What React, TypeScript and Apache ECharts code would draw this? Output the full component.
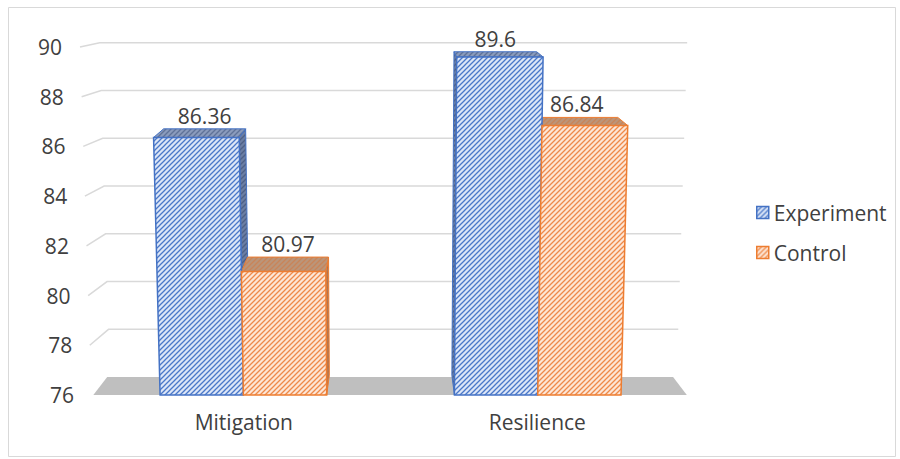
import React, { useEffect, useRef } from 'react';
import * as echarts from 'echarts';

const categories = ['Mitigation', 'Resilience'];
const seriesNames = ['Experiment', 'Control'];
const experimentValues = [86.36, 89.6];
const controlValues = [80.97, 86.84];
const yTicks = [76, 78, 80, 82, 84, 86, 88, 90];

const FONT = '"Open Sans", "Noto Sans", sans-serif';
const TEXT_COLOR = '#404040';

// perspective helpers (presentation only)
const VX = 392;
const EY = -64;
const S = 0.961;
const TOPY = 47;
const VA = 0.000105;
function proj(x: number, y: number, d: number): number[] {
  const sd = 1 - d * (1 - S);
  const x1 = VX + (x - VX) * sd;
  const y1 = EY + (y - EY) * sd;
  const f = 1 - VA * (y1 - TOPY);
  return [VX + (x1 - VX) * f, y1];
}

function makeHatch(bg: string, line: string, size = 5, lw = 1.3) {
  const c = document.createElement('canvas');
  c.width = size;
  c.height = size;
  const ctx = c.getContext('2d') as CanvasRenderingContext2D;
  ctx.fillStyle = bg;
  ctx.fillRect(0, 0, size, size);
  ctx.strokeStyle = line;
  ctx.lineWidth = lw;
  ctx.beginPath();
  ctx.moveTo(-1, size + 1);
  ctx.lineTo(size + 1, -1);
  ctx.moveTo(-1, 1);
  ctx.lineTo(1, -1);
  ctx.moveTo(size - 1, size + 1);
  ctx.lineTo(size + 1, size - 1);
  ctx.stroke();
  return { image: c, repeat: 'repeat' };
}

export default function App() {
  const ref = useRef<HTMLDivElement>(null);
  useEffect(() => {
    document.body.style.margin = '0';
    if (!ref.current) return;
    const chart = echarts.init(ref.current, null, { renderer: 'svg' });

    const styles = [
      {
        front: makeHatch('#dce6f7', '#4a78c8'),
        top: makeHatch('#8a9bbc', '#5f7298'),
        side: makeHatch('#6b7ea3', '#4d6086'),
        stroke: '#4472c4',
      },
      {
        front: makeHatch('#fde6d6', '#ee8a4a'),
        top: makeHatch('#bb9579', '#c98458'),
        side: makeHatch('#ab7b5c', '#bb6e42'),
        stroke: '#ed7d31',
      },
    ];
    const valueSets = [experimentValues, controlValues];

    const barSeries = seriesNames.map((name, si) => ({
      type: 'custom',
      name,
      coordinateSystem: 'cartesian2d',
      clip: false,
      encode: { x: 0, y: 1 },
      itemStyle: { color: styles[si].front, borderColor: styles[si].stroke },
      data: categories.map((_, i) => [i, valueSets[si][i]]),
      renderItem: (params: any, api: any) => {
        const ci = api.value(0);
        const v = api.value(1);
        const [cx, yT] = api.coord([ci, v]);
        const yB = api.coord([ci, yTicks[0]])[1];
        const band = api.size([1, 0])[0];
        const w = band * 0.283;
        const xL = si === 0 ? cx - w : cx;
        const xR = xL + w;
        const D = 1.1;
        const st = styles[si];
        const P = (arr: number[][]) => arr.map(([x, y, d]) => proj(x, y, d));
        const children: any[] = [];
        if (xR < VX) {
          children.push({
            type: 'polygon',
            z2: 10,
            shape: { points: P([[xR, yT, 0], [xR, yT, D], [xR, yB, D], [xR, yB, 0]]) },
            style: { fill: st.side, stroke: st.stroke, lineWidth: 1 },
          });
        }
        if (xL > VX) {
          children.push({
            type: 'polygon',
            z2: 10,
            shape: { points: P([[xL, yT, 0], [xL, yT, D], [xL, yB, D], [xL, yB, 0]]) },
            style: { fill: st.side, stroke: st.stroke, lineWidth: 1 },
          });
        }
        children.push({
          type: 'polygon',
          z2: 11,
          shape: { points: P([[xL, yT, 0], [xR, yT, 0], [xR, yT, D], [xL, yT, D]]) },
          style: { fill: st.top, stroke: st.stroke, lineWidth: 1 },
        });
        children.push({
          type: 'polygon',
          z2: 12,
          shape: { points: P([[xL, yT, 0], [xR, yT, 0], [xR, yB, 0], [xL, yB, 0]]) },
          style: { fill: st.front, stroke: st.stroke, lineWidth: 1.5 },
        });
        const lp = proj((xL + xR) / 2, yT, D);
        children.push({
          type: 'text',
          z2: 13,
          x: lp[0],
          y: lp[1] - 13,
          style: {
            text: String(v),
            font: `21px ${FONT}`,
            fill: TEXT_COLOR,
            align: 'center',
            verticalAlign: 'middle',
          },
        });
        return { type: 'group', children };
      },
    }));

    const decorSeries = {
      type: 'custom',
      name: 'decor',
      coordinateSystem: 'cartesian2d',
      clip: false,
      silent: true,
      encode: { x: 0, y: 1 },
      data: yTicks.map((t) => [0, t]),
      renderItem: (params: any, api: any) => {
        const t = api.value(1);
        const yF = api.coord([0, t])[1];
        const cs = params.coordSys;
        const gL = cs.x;
        const gR = cs.x + cs.width;
        const children: any[] = [];
        const lp = proj(gL - 23, yF, 0);
        children.push({
          type: 'text',
          z2: 1,
          x: lp[0],
          y: lp[1],
          style: {
            text: String(t),
            font: `21px ${FONT}`,
            fill: TEXT_COLOR,
            align: 'right',
            verticalAlign: 'middle',
          },
        });
        if (t === yTicks[0]) {
          children.push({
            type: 'polygon',
            z2: 2,
            shape: {
              points: [proj(gL - 3, yF, 0), proj(gL, yF, 1), proj(gR - 1, yF, 1), proj(gR + 2, yF, 0)],
            },
            style: { fill: '#bfbfbf' },
          });
        } else {
          const a = proj(gL - 5, yF, 0);
          const b = proj(gL + 3, yF, 1);
          const c = proj(gR + 3, yF, 1);
          children.push({
            type: 'polyline',
            z2: 1,
            shape: { points: [a, b, c] },
            style: { stroke: '#d9d9d9', lineWidth: 1.5, fill: 'none' },
          });
        }
        return { type: 'group', children };
      },
    };

    const categorySeries = {
      type: 'custom',
      name: 'categories',
      coordinateSystem: 'cartesian2d',
      clip: false,
      silent: true,
      encode: { x: 0, y: 1 },
      data: categories.map((_, i) => [i, yTicks[0]]),
      renderItem: (params: any, api: any) => {
        const ci = api.value(0);
        const [cx, y] = api.coord([ci, yTicks[0]]);
        const p = proj(cx, y + 27, 0);
        return {
          type: 'text',
          x: p[0],
          y: p[1],
          style: {
            text: categories[ci],
            font: `21px ${FONT}`,
            fill: TEXT_COLOR,
            align: 'center',
            verticalAlign: 'middle',
          },
        };
      },
    };

    chart.setOption({
      animation: false,
      grid: { left: 85, right: 204, top: 47, bottom: 64 },
      xAxis: {
        type: 'category',
        data: categories,
        axisLine: { show: false },
        axisTick: { show: false },
        axisLabel: { show: false },
        splitLine: { show: false },
      },
      yAxis: {
        type: 'value',
        min: 76,
        max: 90,
        interval: 2,
        axisLine: { show: false },
        axisTick: { show: false },
        axisLabel: { show: false },
        splitLine: { show: false },
      },
      legend: {
        orient: 'vertical',
        left: 751,
        top: 197,
        itemWidth: 12,
        itemHeight: 12,
        itemGap: 19,
        icon: 'rect',
        textStyle: { fontFamily: FONT, fontSize: 21, color: TEXT_COLOR },
        data: seriesNames.map((n, i) => ({
          name: n,
          itemStyle: { color: styles[i].front, borderColor: styles[i].stroke, borderWidth: 1.5 },
        })),
      },
      graphic: [
        {
          type: 'rect',
          shape: { x: 8.5, y: 7.5, width: 887, height: 449 },
          style: { fill: 'none', stroke: '#d9d9d9', lineWidth: 1 },
          silent: true,
          z: -1,
        },
      ],
      series: [decorSeries, ...barSeries, categorySeries],
    });

    return () => chart.dispose();
  }, []);
  return <div ref={ref} style={{ width: 900, height: 459 }} />;
}
